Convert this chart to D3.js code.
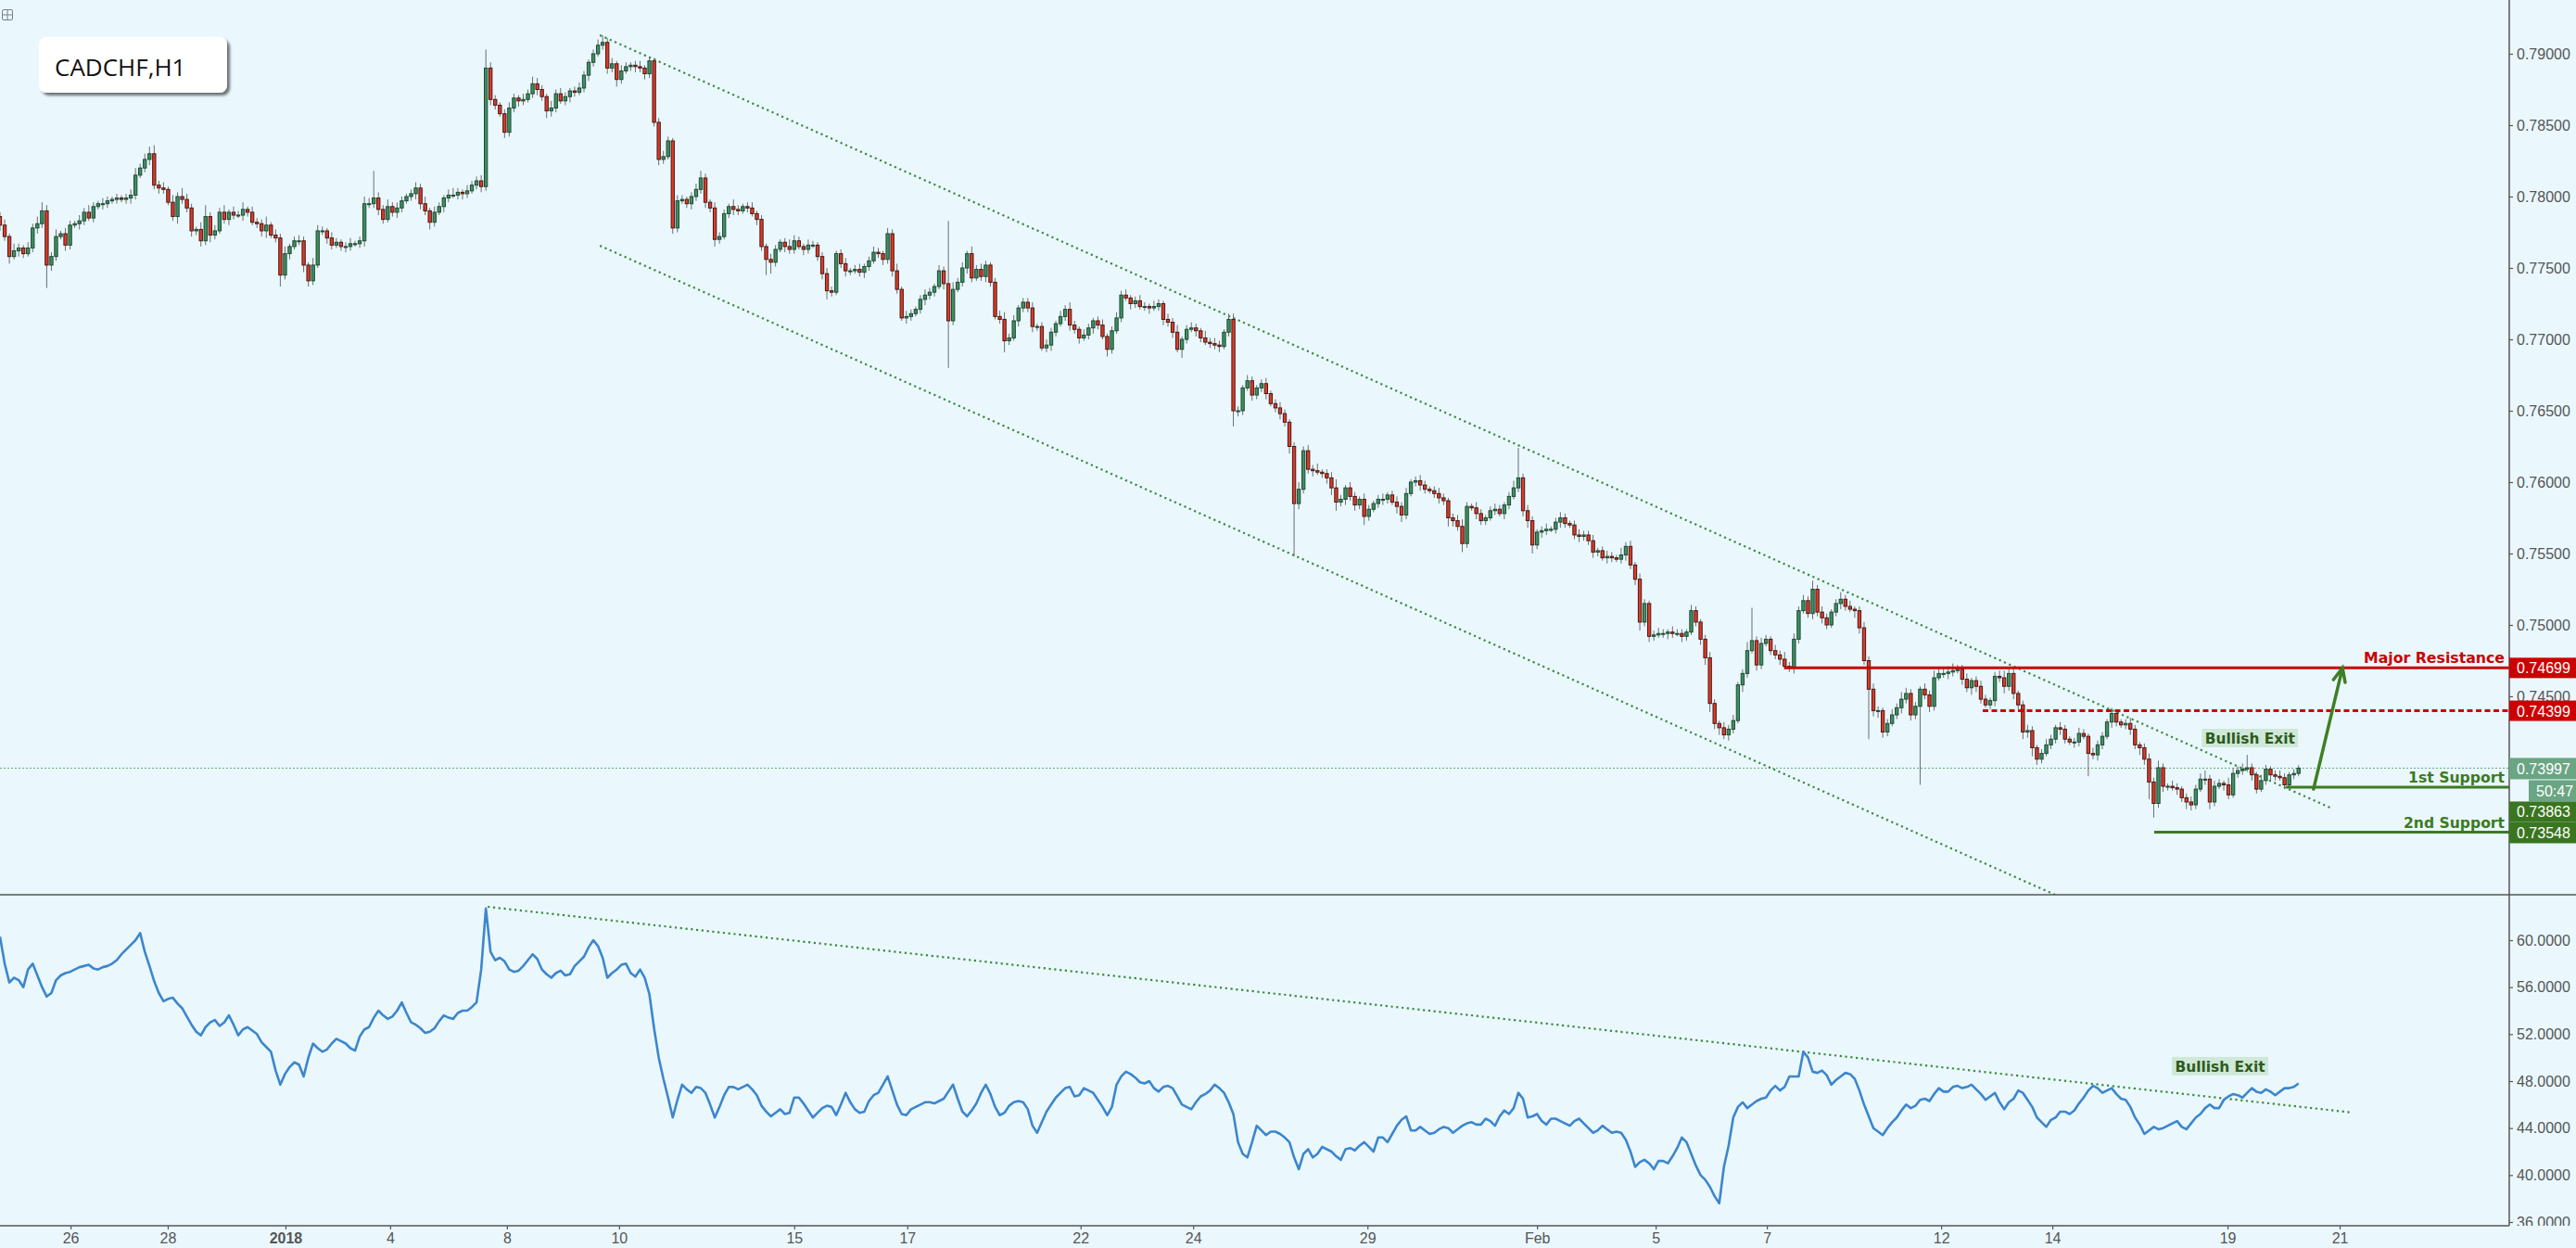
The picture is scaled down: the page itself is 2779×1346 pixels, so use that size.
<!DOCTYPE html>
<html><head><meta charset="utf-8">
<script src="https://cdn.jsdelivr.net/npm/d3@7"></script>
<style>html,body{margin:0;padding:0;background:#eaf8fe;overflow:hidden}svg{display:block}</style>
</head><body>
<svg id="c" width="2779" height="1346"></svg>
<script>
// ---- DATA (2-hour bars, prices in 1e-4 units) ----
const firstOpen = 7786;
const closes = [
7780,7772,7758,7762,7764,7760,7764,7778,7781,7790,
7752,7758,7772,7774,7766,7780,7781,7783,7789,7785,
7793,7795,7795,7797,7798,7799,7798,7799,7801,7815,
7820,7826,7830,7808,7806,7805,7796,7786,7800,7798,
7792,7776,7777,7769,7786,7773,7776,7789,7784,7789,
7787,7787,7791,7789,7782,7781,7776,7780,7773,7771,
7745,7760,7765,7769,7769,7752,7741,7752,7776,7776,
7771,7766,7768,7765,7765,7767,7767,7769,7795,7795,
7799,7791,7784,7793,7789,7792,7797,7800,7802,7806,
7795,7790,7782,7789,7793,7799,7801,7801,7803,7802,
7804,7808,7811,7807,7890,7868,7864,7858,7845,7862,
7869,7867,7868,7872,7879,7875,7870,7860,7862,7872,
7867,7870,7874,7873,7876,7885,7894,7900,7906,7908,
7890,7893,7882,7888,7891,7892,7891,7890,7886,7895,
7852,7826,7828,7839,7778,7797,7798,7795,7800,7805,
7813,7796,7792,7770,7772,7788,7793,7791,7790,7793,
7792,7788,7784,7765,7756,7754,7763,7768,7765,
7763,7769,7765,7763,7766,7766,7758,7746,7734,7733,7760,
7753,7748,7748,7749,7747,7751,7755,7761,7760,7756,
7774,7748,7735,7715,7716,7718,7721,7728,7731,7733,
7737,7748,7739,7713,7735,7740,7750,7760,7743,7749,
7744,7752,7740,7716,7714,7699,7701,7713,7722,7726,
7722,7709,7709,7694,7696,7705,7711,7716,7721,7710,
7707,7701,7703,7708,7713,7710,7702,7693,7706,7715,
7731,7729,7725,7727,7723,7723,7722,7723,7725,7714,
7712,7705,7693,7700,7707,7708,7706,7701,7698,7697,
7696,7695,7705,7714,7650,7650,7666,7671,7661,7666,
7669,7662,7655,7652,7648,7642,7625,7585,7595,7622,
7609,7608,7607,7606,7603,7596,7586,7588,7596,7590,
7584,7588,7576,7581,7585,7588,7588,7591,7586,7583,
7577,7592,7600,7601,7598,7595,7594,7592,7589,7587,
7575,7573,7569,7557,7583,7582,7578,7573,7575,7580,
7581,7578,7584,7590,7596,7603,7580,7573,7556,7565,
7566,7567,7567,7572,7575,7571,7570,7563,7562,7563,
7559,7551,7552,7547,7548,7547,7546,7549,7555,7542,
7532,7502,7515,7492,7493,7494,7494,7495,7494,7494,
7492,7495,7510,7502,7490,7477,7445,7431,7428,7423,
7427,7433,7458,7466,7482,7489,7472,7487,7490,7482,
7479,7476,7471,7470,7490,7510,7517,7508,7525,7509,
7505,7500,7509,7515,7518,7513,7511,7510,7498,7475,
7455,7440,7440,7425,7431,7437,7442,7448,7452,7437,
7443,7455,7451,7443,7463,7466,7466,7467,7468,7469,
7462,7456,7461,7457,7448,7444,7447,7464,7463,7457,
7466,7452,7444,7425,7426,7414,7406,7410,7416,7420,
7428,7427,7420,7418,7418,7424,7422,7410,7409,7416,
7422,7432,7438,7432,7430,7431,7427,7416,7414,7406,
7390,7375,7400,7387,7387,7386,7385,7379,7376,7374,
7385,7392,7392,7376,7387,7389,7388,7381,7396,7398,
7399,7400,7395,7385,7391,7399,7395,7394,7393,7388,
7395,7396,7399.7];
const wickUp = [
3,4,2,5,3,2,4,3,5,6, 4,3,5,2,4,3,2,4,3,5, 3,2,4,3,2,3,2,3,4,5, 3,4,5,6,3,4,2,5,3,6,
4,3,2,5,8,3,4,3,5,2, 4,3,5,2,4,3,3,6,2,4, 3,5,2,3,4,3,2,5,4,3, 2,4,3,2,3,4,2,3,5,4,
19,4,3,5,3,4,3,2,3,4, 3,5,2,4,3,2,4,5,3,2, 4,3,3,4,13,4,3,2,3,4, 3,2,4,3,5,4,3,2,5,3,
4,3,2,3,4,3,2,3,4,5, 3,4,2,4,3,2,3,4,2,3, 2,3,4,3,2,4,3,2,3,4, 5,3,2,4,3,3,2,5,3,2,
3,4,2,3,2,4,3,2,3,5, 4,3,2,4,3,2,3,4,3,2, 3,4,2,3,4,2,3,4,3,2, 4,3,5,2,4,3,2,3,4,3,
2,4,3,44,5,3,4,2,5,3, 4,3,2,3,4,5,3,4,2,3, 3,4,2,3,4,3,2,4,3,5, 3,2,4,3,2,3,4,2,3,4,
3,4,2,3,4,3,2,4,3,2, 4,3,5,2,3,4,3,2,5,3, 4,3,2,4,4,3,2,4,3,2, 3,4,2,3,4,3,2,3,5,3,
4,3,5,2,3,4,6,3,2,4, 3,2,4,3,2,3,4,2,3,4, 3,4,2,3,4,3,2,3,4,3, 2,3,4,5,3,2,4,3,2,3,
4,3,2,3,5,21,3,4,3,2, 3,4,2,3,4,3,2,3,4,3, 3,4,2,3,4,3,2,5,3,4, 2,4,3,2,3,4,3,2,4,3,
3,2,4,3,2,3,4,3,2,4, 3,4,2,3,6,23,3,4,3,2, 4,3,5,3,4,3,4,3,6,3, 4,3,2,3,5,3,4,2,3,4,
3,4,3,2,3,4,3,5,4,3, 3,2,4,3,5,4,3,4,5,3, 3,4,2,3,4,3,2,3,4,5, 3,4,2,3,4,3,2,3,4,3,
2,4,3,2,3,4,3,2,4,3, 3,2,4,3,2,3,4,3,2,3, 4,3,5,3,2,4,3,2,3,4, 3,4,6,3,4,3,2,5,4,3,
4,9,3,2,4,3,2,3,4,3, 2,3,2];
const wickDn = [
4,3,5,2,4,3,2,3,4,3, 16,4,3,2,4,3,2,4,3,2, 3,2,4,3,2,3,2,3,4,3, 2,3,4,3,4,3,2,3,5,3,
3,4,3,4,3,5,3,2,3,4, 3,2,4,3,2,3,4,5,2,3, 8,3,4,2,3,5,4,3,2,3, 4,3,2,3,4,3,2,3,4,3,
3,4,3,2,3,4,3,2,3,4, 4,3,5,3,2,4,3,2,3,4, 3,2,3,4,3,4,3,2,4,3, 3,4,3,2,3,4,3,5,4,3,
2,3,4,3,2,3,4,3,2,3, 4,3,5,3,2,3,4,3,4,3, 3,4,3,2,4,3,2,3,4,3, 3,4,3,5,3,2,3,4,3,2,
3,2,4,3,11,8,3,2,4,3, 3,2,4,3,2,3,4,6,3,2, 3,4,3,2,3,4,3,2,3,4, 3,4,3,2,4,3,2,3,4,3,
3,2,4,33,3,2,3,4,3,2, 3,4,3,2,3,8,3,2,4,3, 3,4,3,2,3,4,3,2,3,4, 3,4,2,3,4,3,2,5,3,2,
3,2,4,3,2,3,4,2,3,4, 3,4,2,6,3,2,4,3,2,3, 3,4,2,3,11,4,3,2,4,3, 3,4,2,3,4,3,5,37,4,3,
3,4,2,3,4,5,6,3,4,3, 4,3,6,3,2,3,4,3,2,5, 5,3,2,3,4,3,2,3,4,3, 6,4,3,6,3,2,4,3,3,2,
3,2,4,3,2,3,4,5,6,3, 4,3,2,3,4,3,2,3,4,3, 3,4,3,2,4,3,2,3,4,3, 4,6,3,4,3,2,3,4,3,2,
4,3,2,3,4,5,6,4,5,3, 4,3,2,5,3,2,4,3,2,3, 3,4,2,3,4,3,2,3,4,3, 4,3,2,3,4,3,2,5,4,3,
35,4,5,4,3,2,3,4,3,4, 3,55,3,4,3,2,3,4,3,2, 4,3,5,4,3,2,3,4,3,5, 3,4,3,5,4,6,4,3,2,3,
3,4,3,2,4,3,2,16,3,4, 3,2,4,3,2,3,4,3,5,4, 12,10,3,4,3,2,4,3,5,4, 3,2,4,5,3,2,4,3,2,3,
3,2,4,3,2,3,4,3,2,3, 2,3,2];
const rsi = [
60.3,58,56.4,56.8,56.6,56,57.5,58,57,56, 55.2,55.5,56.6,57,57.2,57.3,57.5,57.7,57.8,57.9,
57.6,57.5,57.7,57.8,58,58.3,58.8,59.2,59.6,60, 60.6,59,57.8,56.5,55.5,54.8,55,55.1,54.6,54.2,
53.5,52.8,52.2,51.9,52.6,53,53.2,52.7,53,53.6, 52.8,51.9,52.4,52.6,52.3,52,51.3,50.9,50.5,48.9,
47.7,48.6,49.2,49.6,49.4,48.4,50,51.2,50.8,50.5, 50.7,51.2,51.6,51.4,51.2,50.8,50.6,51.8,52.4,52.6,
53.4,54,53.6,53.3,53.5,54,54.7,53.8,53,52.8, 52.5,52.1,52.2,52.5,53.1,53.6,53.4,53.3,53.8,54,
54,54.3,54.7,57.5,62.7,59,58.3,58.5,58.2,57.5, 57.3,57.4,57.8,58.3,58.8,58.4,57.5,57.1,56.8,57.2,
57.4,57,57.1,57.8,58.2,58.6,59.4,60,59.5,58.5, 56.8,57.2,57.5,57.9,58,57.2,56.9,57.5,56.8,55.4,
52.5,50,48.2,46.6,44.9,46.4,47.7,47.3,47,47.5, 47.4,47,46,44.9,45.8,46.8,47.5,47.5,47.3,47.5,
47.7,47.3,46.8,45.9,45.4,45,45.3,45.6,45.2,45.3, 46.6,46.6,46.1,45.5,44.9,45.3,45.7,45.9,45.8,45.1,
46,47,46.2,45.6,45.3,45.4,46.3,46.8,47,47.7, 48.4,47.2,46,45.2,45.1,45.6,45.8,46,46.2,46.2,
46.1,46.3,46.5,47.1,47.7,46.5,45.4,45,45.5,46.1, 47,47.7,46.9,45.8,45.1,45.3,45.9,46.2,46.3,46.2,
45.6,44.2,43.6,44.5,45.4,46,46.6,47,47.4,47.5, 46.7,46.8,47.4,47.2,47,46.4,45.8,45.1,45.8,47.7,
48.4,48.8,48.6,48.3,47.9,47.8,48,47.4,47.1,47.5, 47.6,47.4,46.7,46,45.8,45.6,46.2,46.7,46.9,47.2,
47.7,47.4,47,46.2,45.2,42.8,41.8,41.5,42.8,44.2, 43.8,43.4,43.7,43.7,43.5,43.2,42.8,41.5,40.5,41.8,
42.2,41.5,41.8,42.4,42.2,42,41.6,41.3,42.2,42.3, 42.1,42.5,42.8,42.4,42,43.2,43.2,42.8,43.5,44.2,
44.7,45,43.8,43.8,44.1,43.8,43.5,43.6,43.9,44.1, 44,43.6,43.9,44.2,44.4,44.5,44.3,44.3,44.8,44.6,
44.2,45,45.5,45.2,45.7,47,46.5,44.9,45,45.2, 44.6,44.3,44.8,44.8,44.6,44.4,44.2,44.6,44.8,44.4,
44,43.6,43.8,44.2,43.9,43.6,43.7,43.6,43,42, 40.7,41.1,41.3,41,40.5,41.2,41.2,41,41.6,42.3,
43.2,42.8,41.8,40.8,40,39.6,39,38.2,37.6,40.7, 42.5,44.9,45.8,46.2,45.7,46,46.3,46.5,46.6,47.2,
47.6,47.2,47.5,48.4,48.4,48.4,50.5,50,48.8,48.7, 48.9,48.5,47.7,48.1,48.4,48.7,48.6,48.2,47.2,46,
45,44,43.7,43.4,44,44.5,44.9,45.5,46,45.7, 45.9,46.4,46.5,46.3,46.9,47.4,47.1,47.1,47.5,47.6,
47.4,47.5,47.7,47.3,46.9,46.4,46.7,47,46.2,45.6, 46.2,46.5,47.2,47,46.4,45.8,44.9,44.5,44.1,44.7,
44.9,45.4,45.4,45.2,45.5,46.1,46.6,47.2,47.6,47.4, 47,47.2,47.4,46.9,46.5,46.4,45.8,44.9,44.3,43.5,
43.8,44.1,43.9,44,44.2,44.4,44.6,44.1,43.9,44.4, 44.9,45.2,45.7,46,45.7,45.7,46.4,46.7,46.9,46.8,
46.6,47,47.4,47.1,47,47.3,47.1,46.8,47.1,47.4, 47.4,47.5,47.8];

const timeTicks  = [15.1, 35.9, 61.1, 83.5, 108.5, 132.5, 170, 194.2, 231.3, 255.4, 292.7, 329, 354.4, 378.2, 415.5, 439.3, 476.8, 500.8];
const timeLabels = ["26","28","2018","4","8","10","15","17","22","24","29","Feb","5","7","12","14","19","21"];
const priceTicks = [0.79, 0.785, 0.78, 0.775, 0.77, 0.765, 0.76, 0.755, 0.75, 0.745];
const rsiTicks   = [60, 56, 52, 48, 44, 40, 36];

// annotations (bar index, price)
const upperTrend = [[128.4, 0.79130], [499.2, 0.73714]];
const lowerTrend = [[128.4, 0.77656], [440.3, 0.73104]];
const rsiTrend   = [[104.4, 62.84], [503.6, 45.32]];
const resistance = {price: 0.74699, from: 381.9, label: "Major Resistance"};
const minorRes   = {price: 0.74399, from: 424.4};
const support1   = {price: 0.73863, from: 489.3, label: "1st Support"};
const support2   = {price: 0.73548, from: 461.1, label: "2nd Support"};
const arrowPts   = [[495.2, 0.73850], [501.4, 0.74699]];
const lastPrice  = 0.73997;
const countdown  = "50:47";
const exitPrice  = {bar: 481.6, price: 0.74208, text: "Bullish Exit"};
const exitRsi    = {bar: 475.2, value: 49.27, text: "Bullish Exit"};
const symbol     = "CADCHF,H1";

// ---- LAYOUT ----
const W = 2779, H = 1346, axisX = 2707, divY = 965, botY = 1322;
const svg = d3.select("#c");
const x  = d3.scaleLinear().domain([0, 537.1]).range([0, axisX]);
const yP = d3.scaleLinear().domain([0.79, 0.765]).range([58, 443]);
const yR = d3.scaleLinear().domain([60, 36]).range([1014, 1318]);

svg.append("rect").attr("width", W).attr("height", H).attr("fill", "#eaf8fe");
const defs = svg.append("defs");
defs.append("clipPath").attr("id","cp").append("rect").attr("x",0).attr("y",0).attr("width",axisX).attr("height",divY);
defs.append("clipPath").attr("id","cr").append("rect").attr("x",0).attr("y",divY+1).attr("width",axisX).attr("height",botY-divY-1);
defs.append("clipPath").attr("id","cra").append("rect").attr("x",axisX).attr("y",divY+1).attr("width",W-axisX).attr("height",botY-divY-1);
const f = defs.append("filter").attr("id","sh").attr("x","-10%").attr("y","-10%").attr("width","130%").attr("height","140%");
f.append("feDropShadow").attr("dx",3).attr("dy",3).attr("stdDeviation",1.6).attr("flood-color","#000").attr("flood-opacity",0.55);

const pP = svg.append("g").attr("clip-path","url(#cp)");
const pR = svg.append("g").attr("clip-path","url(#cr)");

// last price line
pP.append("line").attr("x1",0).attr("x2",axisX).attr("y1",yP(lastPrice)).attr("y2",yP(lastPrice))
  .attr("stroke","#6aa584").attr("stroke-width",1).attr("stroke-dasharray","2,2");

// channel lines
const dotted = (g, pts, ys) => g.append("line")
  .attr("x1", x(pts[0][0])).attr("y1", ys(pts[0][1])).attr("x2", x(pts[1][0])).attr("y2", ys(pts[1][1]))
  .attr("stroke","#3d8a3a").attr("stroke-width",2.2).attr("stroke-dasharray","2.2,3.6");
dotted(pP, upperTrend, yP);
dotted(pP, lowerTrend, yP);

// candles
const candles = closes.map((c, i) => {
  const o = i ? closes[i-1] : firstOpen;
  return {i, o: o/1e4, c: c/1e4, h: (Math.max(o,c)+wickUp[i])/1e4, l: (Math.min(o,c)-wickDn[i])/1e4};
});
const bw = (x(1)-x(0))*0.66;
const cg = pP.append("g");
cg.selectAll("line.w").data(candles).join("line").attr("class","w")
  .attr("x1", d=>x(d.i)).attr("x2", d=>x(d.i)).attr("y1", d=>yP(d.h)).attr("y2", d=>yP(d.l))
  .attr("stroke","#6d6d6d").attr("stroke-width",1);
cg.selectAll("rect.b").data(candles).join("rect").attr("class","b")
  .attr("x", d=>x(d.i)-bw/2).attr("width", bw)
  .attr("y", d=>yP(Math.max(d.o,d.c)))
  .attr("height", d=>Math.max(1, yP(Math.min(d.o,d.c))-yP(Math.max(d.o,d.c))))
  .attr("fill", d=> d.c>=d.o ? "#3f8f63" : "#db3b2b")
  .attr("stroke", d=> d.c>=d.o ? "#1d4a31" : "#4a1710").attr("stroke-width",1);

// levels
const lvl = (o, color, dash, w) => pP.append("line").attr("x1", x(o.from)).attr("x2", axisX)
  .attr("y1", yP(o.price)).attr("y2", yP(o.price)).attr("stroke", color).attr("stroke-width", w)
  .attr("stroke-dasharray", dash);
lvl(resistance, "#cc0000", null, 3);
lvl(minorRes, "#cc0000", "6,3.5", 3);
lvl(support1, "#3d7a22", null, 3);
lvl(support2, "#3d7a22", null, 3);

const lbl = (o, color, len) => svg.append("text").attr("x", axisX-5).attr("y", yP(o.price)-5)
  .attr("text-anchor","end").attr("font-family","DejaVu Sans").attr("font-weight","bold")
  .attr("font-size",16).attr("fill",color).attr("textLength",len).attr("lengthAdjust","spacingAndGlyphs").text(o.label);
lbl(resistance, "#cc0000", 152);
lbl(support1, "#3d7a22", 104);
lbl(support2, "#3d7a22", 109);

// arrow
const a0 = [x(arrowPts[0][0]), yP(arrowPts[0][1])], a1 = [x(arrowPts[1][0]), yP(arrowPts[1][1])];
const ang = Math.atan2(a1[1]-a0[1], a1[0]-a0[0]);
const hl = 16, ha = 0.42;
const ag = svg.append("g").attr("stroke","#3f7f23").attr("stroke-width",3.5).attr("fill","none").attr("stroke-linecap","round");
ag.append("line").attr("x1",a0[0]).attr("y1",a0[1]).attr("x2",a1[0]).attr("y2",a1[1]);
ag.append("path").attr("d", `M${a1[0]-hl*Math.cos(ang-ha)},${a1[1]-hl*Math.sin(ang-ha)}L${a1[0]},${a1[1]}L${a1[0]-hl*Math.cos(ang+ha)},${a1[1]-hl*Math.sin(ang+ha)}`);

// bullish exit labels
const exitLabel = (cx, cy) => {
  svg.append("rect").attr("x", cx-52).attr("y", cy-10).attr("width",104).attr("height",20).attr("fill","#cfe8d8");
  svg.append("text").attr("x", cx).attr("y", cy+6).attr("text-anchor","middle").attr("font-family","DejaVu Sans")
    .attr("font-weight","bold").attr("font-size",16).attr("fill","#2d5a1b").attr("textLength",97)
    .attr("lengthAdjust","spacingAndGlyphs").text("Bullish Exit");
};
exitLabel(x(exitPrice.bar), yP(exitPrice.price));

// RSI pane
dotted(pR, rsiTrend, yR);
pR.append("path").datum(rsi).attr("fill","none").attr("stroke","#3d86cc").attr("stroke-width",2.6)
  .attr("stroke-linejoin","round")
  .attr("d", d3.line().x((d,i)=>x(i)).y(d=>yR(d)));
exitLabel(x(exitRsi.bar), yR(exitRsi.value));

// frame lines
const fr = svg.append("g").attr("stroke","#555").attr("stroke-width",1.5);
fr.append("line").attr("x1",axisX).attr("x2",axisX).attr("y1",0).attr("y2",botY);
fr.append("line").attr("x1",0).attr("x2",W).attr("y1",divY).attr("y2",divY);
fr.append("line").attr("x1",0).attr("x2",axisX).attr("y1",botY).attr("y2",botY);

// axes
const styleAxis = g => {
  g.select(".domain").remove();
  g.selectAll(".tick line").attr("stroke","#555").attr("stroke-width",1.2);
  g.selectAll(".tick text").attr("fill","#555").attr("font-family","Liberation Sans, Arial, sans-serif").attr("font-size",16);
};
svg.append("g").attr("transform",`translate(${axisX},0)`)
  .call(d3.axisRight(yP).tickValues(priceTicks).tickFormat(d3.format(".5f")).tickSize(4).tickPadding(4)).call(styleAxis);
svg.append("g").attr("clip-path","url(#cra)").append("g").attr("transform",`translate(${axisX},0)`)
  .call(d3.axisRight(yR).tickValues(rsiTicks).tickFormat(d3.format(".4f")).tickSize(4).tickPadding(4)).call(styleAxis);
const xa = svg.append("g").attr("transform",`translate(0,${botY})`)
  .call(d3.axisBottom(x).tickValues(timeTicks).tickFormat((d,i)=>timeLabels[i]).tickSize(4).tickPadding(4)).call(styleAxis);
xa.selectAll(".tick text").attr("font-weight",(d,i)=>timeLabels[i]==="2018"?"bold":"normal");

// price labels on axis
const tag = (y0, h, fill, txt, x0) => {
  svg.append("rect").attr("x", x0||axisX).attr("y", y0).attr("width", W-(x0||axisX)).attr("height", h).attr("fill", fill);
  svg.append("text").attr("x", (x0||axisX)+8).attr("y", y0+h/2+6).attr("fill","#fff")
    .attr("font-family","Liberation Sans, Arial, sans-serif").attr("font-size",16).text(txt);
};
const f5 = d3.format(".5f");
tag(yP(resistance.price)-11, 22, "#cc0000", f5(resistance.price));
tag(yP(minorRes.price)-11, 22, "#cc0000", f5(minorRes.price));
tag(yP(lastPrice)-11, 23, "#6aa584", f5(lastPrice));
tag(yP(lastPrice)+13, 23, "#6aa584", countdown, 2728);
tag(yP(lastPrice)+36, 22, "#3a7520", f5(support1.price));
tag(yP(lastPrice)+58, 23, "#3a7520", f5(support2.price));

// symbol box
svg.append("rect").attr("x",42).attr("y",40).attr("width",203).attr("height",60).attr("rx",8)
  .attr("fill","#fff").attr("filter","url(#sh)");
svg.append("text").attr("x",59).attr("y",82).attr("font-family","Open Sans, Noto Sans, sans-serif")
  .attr("font-size",26).attr("fill","#111").text(symbol);

// top-left icon
const ic = svg.append("g").attr("stroke","#7a8088").attr("fill","none").attr("stroke-width",1);
ic.append("rect").attr("x",2.5).attr("y",10.5).attr("width",11).attr("height",11).attr("rx",1.5);
ic.append("line").attr("x1",8).attr("x2",8).attr("y1",11).attr("y2",21);
ic.append("line").attr("x1",3).attr("x2",13).attr("y1",16).attr("y2",16);
</script>
</body></html>
